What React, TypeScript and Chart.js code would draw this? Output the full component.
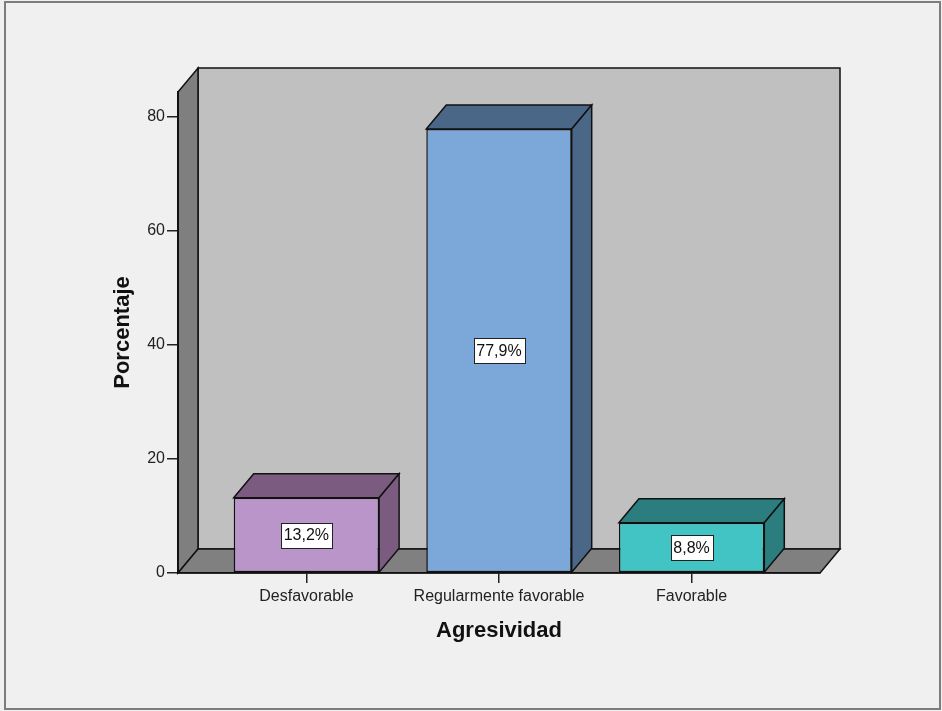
import React, { useEffect, useRef } from "react";
import { Chart, registerables } from "chart.js";

Chart.register(...registerables);

// Data
const categories = ["Desfavorable", "Regularmente favorable", "Favorable"];
const percentages = [13.2, 77.9, 8.8];
const yTicks = [0, 20, 40, 60, 80];

// Face colours per bar: front, top/side
const frontColors = ["#b995c9", "#7ba8d8", "#42c3c4"];
const shadeColors = ["#7b5c80", "#4b6788", "#2b7d7e"];

const FONT = "'Liberation Sans', Arial, sans-serif";
const DEPTH_X = 20;
const DEPTH_Y = -24;

const fmt = (v: number) => v.toFixed(1).replace(".", ",") + "%";

const poly = (ctx: CanvasRenderingContext2D, pts: number[][], fill: string) => {
  ctx.beginPath();
  ctx.moveTo(pts[0][0], pts[0][1]);
  for (let i = 1; i < pts.length; i++) ctx.lineTo(pts[i][0], pts[i][1]);
  ctx.closePath();
  ctx.fillStyle = fill;
  ctx.fill();
  ctx.stroke();
};

const frame3d = {
  id: "frame3d",
  beforeDraw(chart: any) {
    const { ctx, chartArea, width, height } = chart;
    const { left: L, right: R, top: T, bottom: B } = chartArea;
    ctx.save();
    ctx.fillStyle = "#f0f0f0";
    ctx.fillRect(0, 0, width, height);
    ctx.strokeStyle = "#7d7d7d";
    ctx.lineWidth = 2;
    ctx.strokeRect(5, 2, 935, 707);

    ctx.strokeStyle = "#111";
    ctx.lineWidth = 1.5;
    ctx.lineJoin = "miter";
    // back wall
    poly(ctx, [[L + DEPTH_X, T + DEPTH_Y], [R + DEPTH_X, T + DEPTH_Y], [R + DEPTH_X, B + DEPTH_Y], [L + DEPTH_X, B + DEPTH_Y]], "#c0c0c0");
    // left wall
    poly(ctx, [[L, T], [L + DEPTH_X, T + DEPTH_Y], [L + DEPTH_X, B + DEPTH_Y], [L, B]], "#7f7f7f");
    // floor
    poly(ctx, [[L, B], [L + DEPTH_X, B + DEPTH_Y], [R + DEPTH_X, B + DEPTH_Y], [R, B]], "#808080");
    ctx.restore();
  },
  afterDatasetsDraw(chart: any) {
    const { ctx, chartArea } = chart;
    const meta = chart.getDatasetMeta(0);
    ctx.save();
    ctx.strokeStyle = "#111";
    ctx.lineWidth = 1.5;
    meta.data.forEach((bar: any, i: number) => {
      const { x, y, base, width } = bar.getProps(["x", "y", "base", "width"], true);
      const x0 = x - width / 2;
      const x1 = x + width / 2;
      // top face
      poly(ctx, [[x0, y], [x0 + DEPTH_X, y + DEPTH_Y], [x1 + DEPTH_X, y + DEPTH_Y], [x1, y]], shadeColors[i]);
      // right side face
      poly(ctx, [[x1, y], [x1 + DEPTH_X, y + DEPTH_Y], [x1 + DEPTH_X, base + DEPTH_Y], [x1, base]], shadeColors[i]);

      // value label box
      const text = fmt(percentages[i]);
      ctx.font = `16px ${FONT}`;
      const tw = ctx.measureText(text).width;
      const bw = Math.round(tw + 6);
      const bh = 25;
      const cy = (y + base) / 2;
      const bx = Math.round(x - bw / 2);
      const by = Math.round(cy - bh / 2);
      ctx.fillStyle = "#ffffff";
      ctx.fillRect(bx, by, bw, bh);
      ctx.lineWidth = 1;
      ctx.strokeStyle = "#222";
      ctx.strokeRect(bx + 0.5, by + 0.5, bw, bh);
      ctx.fillStyle = "#111";
      ctx.textAlign = "center";
      ctx.textBaseline = "middle";
      ctx.fillText(text, x, cy + 1);
      ctx.lineWidth = 1.5;
      ctx.strokeStyle = "#111";
    });
    // front edge of the left wall
    ctx.beginPath();
    ctx.moveTo(chartArea.left, chartArea.top);
    ctx.lineTo(chartArea.left, chartArea.bottom);
    ctx.stroke();
    ctx.restore();
  },
};

export default function App() {
  const ref = useRef<HTMLCanvasElement>(null);

  useEffect(() => {
    document.body.style.margin = "0";
    const canvas = ref.current!;
    const chart = new Chart(canvas, {
      type: "bar",
      data: {
        datasets: [
          {
            label: "Porcentaje",
            data: categories.map((_, i) => ({ x: i, y: percentages[i] })),
            backgroundColor: frontColors,
            borderColor: "#111",
            borderWidth: 1.5,
            borderSkipped: false,
            categoryPercentage: 1,
            barPercentage: 0.755,
          },
        ],
      },
      options: {
        responsive: false,
        animation: false,
        layout: { padding: { top: 92, right: 122, left: 0, bottom: 0 } },
        plugins: { legend: { display: false }, tooltip: { enabled: false } },
        scales: {
          x: {
            type: "linear",
            offset: false,
            min: -0.6667,
            max: 2.6667,
            afterFit: (s: any) => {
              s.height = 138;
            },
            afterBuildTicks: (s: any) => {
              s.ticks = categories.map((_, i) => ({ value: i }));
            },
            ticks: {
              callback: (v: any) => categories[v as number] ?? "",
              font: { family: FONT, size: 16 },
              color: "#222",
              padding: 4,
              maxRotation: 0,
              autoSkip: false,
            },
            grid: {
              offset: false,
              drawOnChartArea: false,
              drawTicks: true,
              tickLength: 10,
              color: "#222",
              lineWidth: 1.5,
            },
            border: { display: true, color: "#111", width: 1.5 },
            title: {
              display: true,
              text: "Agresividad",
              font: { family: FONT, size: 22, weight: "bold" },
              color: "#111",
              padding: { top: 0, bottom: 67 },
            },
          },
          y: {
            min: 0,
            max: 84.4,
            afterFit: (s: any) => {
              s.width = 178;
            },
            afterBuildTicks: (s: any) => {
              s.ticks = yTicks.map((v) => ({ value: v }));
            },
            ticks: {
              font: { family: FONT, size: 16 },
              color: "#222",
              padding: 2,
              includeBounds: false,
            },
            grid: { drawOnChartArea: false, drawTicks: true, tickLength: 11, color: "#222", lineWidth: 1.5 },
            border: { display: true, color: "#111", width: 1.5 },
            title: {
              display: true,
              text: "Porcentaje",
              font: { family: FONT, size: 22, weight: "bold" },
              color: "#111",
              padding: { top: 110, bottom: 0 },
            },
          },
        },
      },
      plugins: [frame3d],
    });
    return () => chart.destroy();
  }, []);

  return <canvas ref={ref} width={942} height={711} style={{ display: "block" }} />;
}
